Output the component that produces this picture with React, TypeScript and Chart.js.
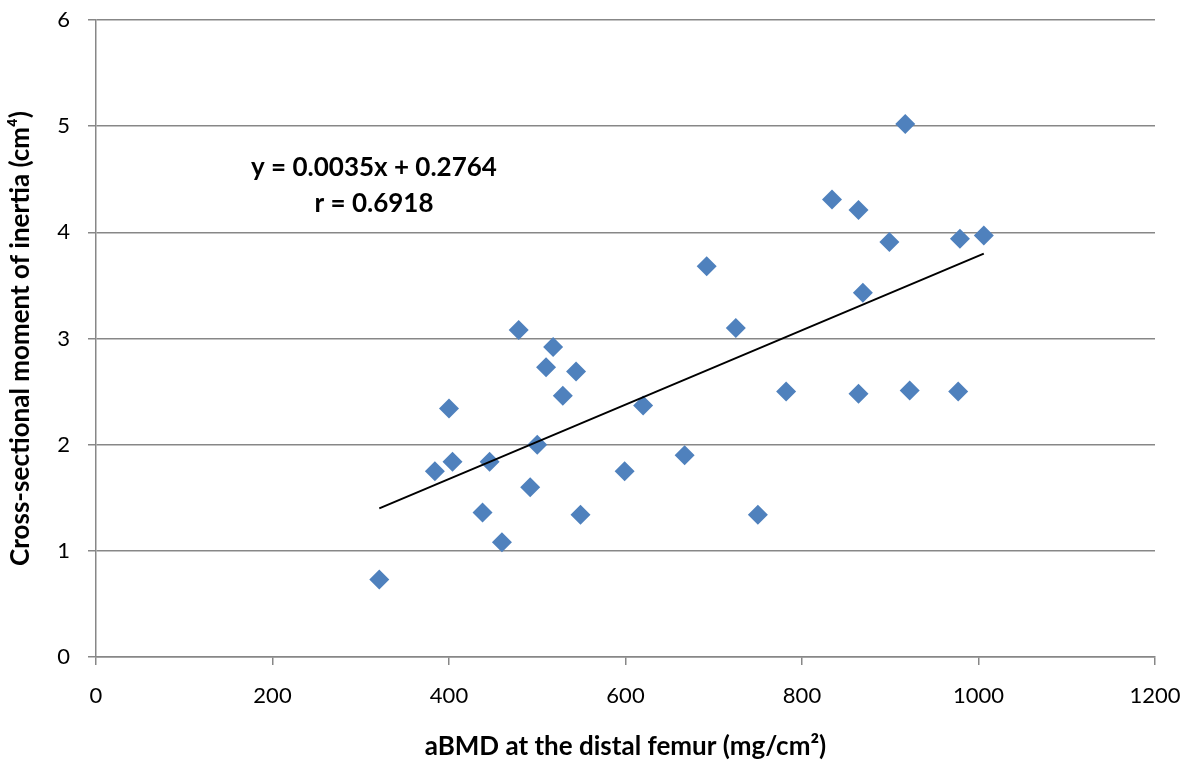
import React, { useEffect, useRef } from "react";
import { Chart, registerables } from "chart.js";

Chart.register(...registerables);

const bmdValues = [321, 384, 400, 404, 438, 446, 460, 479, 492, 500, 510, 518, 529, 544, 549, 599, 620, 667, 692, 725, 750, 782, 834, 864, 864, 869, 899, 917, 922, 977, 979, 1006];
const inertiaValues = [0.73, 1.75, 2.34, 1.84, 1.36, 1.84, 1.08, 3.08, 1.60, 2.00, 2.73, 2.92, 2.46, 2.69, 1.34, 1.75, 2.37, 1.90, 3.68, 3.10, 1.34, 2.50, 4.31, 4.21, 2.48, 3.43, 3.91, 5.02, 2.51, 2.50, 3.94, 3.97];
const trendX = [321, 1006];
const trendY = [1.40, 3.80];
const equationLines = ["y = 0.0035x + 0.2764", "r = 0.6918"];
const xTitle = "aBMD at the distal femur (mg/cm²)";
const yTitle = "Cross-sectional moment of inertia (cm⁴)";

const FONT = "Lato, 'Open Sans', sans-serif";
const GRID = "#878787";

const annotationPlugin = {
  id: "equationText",
  afterDraw(chart: any) {
    const ctx = chart.ctx;
    ctx.save();
    ctx.fillStyle = "#000";
    ctx.font = `bold 26px ${FONT}`;
    ctx.textAlign = "center";
    ctx.textBaseline = "middle";
    ctx.fillText(equationLines[0], 374, 168);
    ctx.fillText(equationLines[1], 374, 204);
    ctx.restore();
  },
};

const zeroPad = (s: any) => {
  s.paddingTop = 0;
  s.paddingBottom = 0;
  s.paddingLeft = 0;
  s.paddingRight = 0;
};

export default function App() {
  const ref = useRef<HTMLCanvasElement | null>(null);
  useEffect(() => {
    document.body.style.margin = "0";
    const canvas = ref.current;
    if (!canvas) return;
    const chart = new Chart(canvas, {
      type: "scatter",
      data: {
        datasets: [
          {
            type: "scatter",
            data: bmdValues.map((x, i) => ({ x, y: inertiaValues[i] })),
            pointStyle: "rectRot",
            pointRadius: 10,
            pointHoverRadius: 10,
            backgroundColor: "#4F81BD",
            borderColor: "#4F81BD",
            borderWidth: 0,
            order: 1,
          },
          {
            type: "line",
            data: trendX.map((x, i) => ({ x, y: trendY[i] })),
            borderColor: "#000",
            borderWidth: 2,
            pointRadius: 0,
            fill: false,
            order: 0,
          } as any,
        ],
      },
      options: {
        responsive: false,
        animation: false,
        layout: { padding: { top: 20, right: 39, left: 0, bottom: 0 } },
        plugins: { legend: { display: false }, tooltip: { enabled: false } },
        scales: {
          x: {
            type: "linear",
            min: 0,
            max: 1200,
            ticks: { stepSize: 200, color: "#000", font: { family: FONT, size: 22 }, padding: 18, callback: (v: any) => String(v) },
            grid: { drawOnChartArea: false, drawTicks: true, tickLength: 8, color: GRID, lineWidth: 1.5 },
            border: { display: true, color: GRID, width: 1.5 },
            title: { display: true, text: xTitle, color: "#000", font: { family: FONT, size: 26, weight: "bold", lineHeight: 1 }, padding: 0 },
            afterFit: (s: any) => { s.height = 103; zeroPad(s); },
          },
          y: {
            type: "linear",
            min: 0,
            max: 6,
            ticks: { stepSize: 1, color: "#000", font: { family: FONT, size: 22 }, padding: 18, callback: (v: any) => String(v) },
            grid: { drawOnChartArea: true, drawTicks: true, tickLength: 8, color: GRID, lineWidth: 1.5 },
            border: { display: true, color: GRID, width: 1.5 },
            title: { display: true, text: yTitle, color: "#000", font: { family: FONT, size: 26, weight: "bold", lineHeight: 1 }, padding: 8 },
            afterFit: (s: any) => { s.width = 96; zeroPad(s); },
          },
        },
      },
      plugins: [annotationPlugin],
    } as any);
    return () => chart.destroy();
  }, []);
  return (
    <div style={{ width: 1194, height: 760, background: "#fff" }}>
      <canvas ref={ref} width={1194} height={760} />
    </div>
  );
}
